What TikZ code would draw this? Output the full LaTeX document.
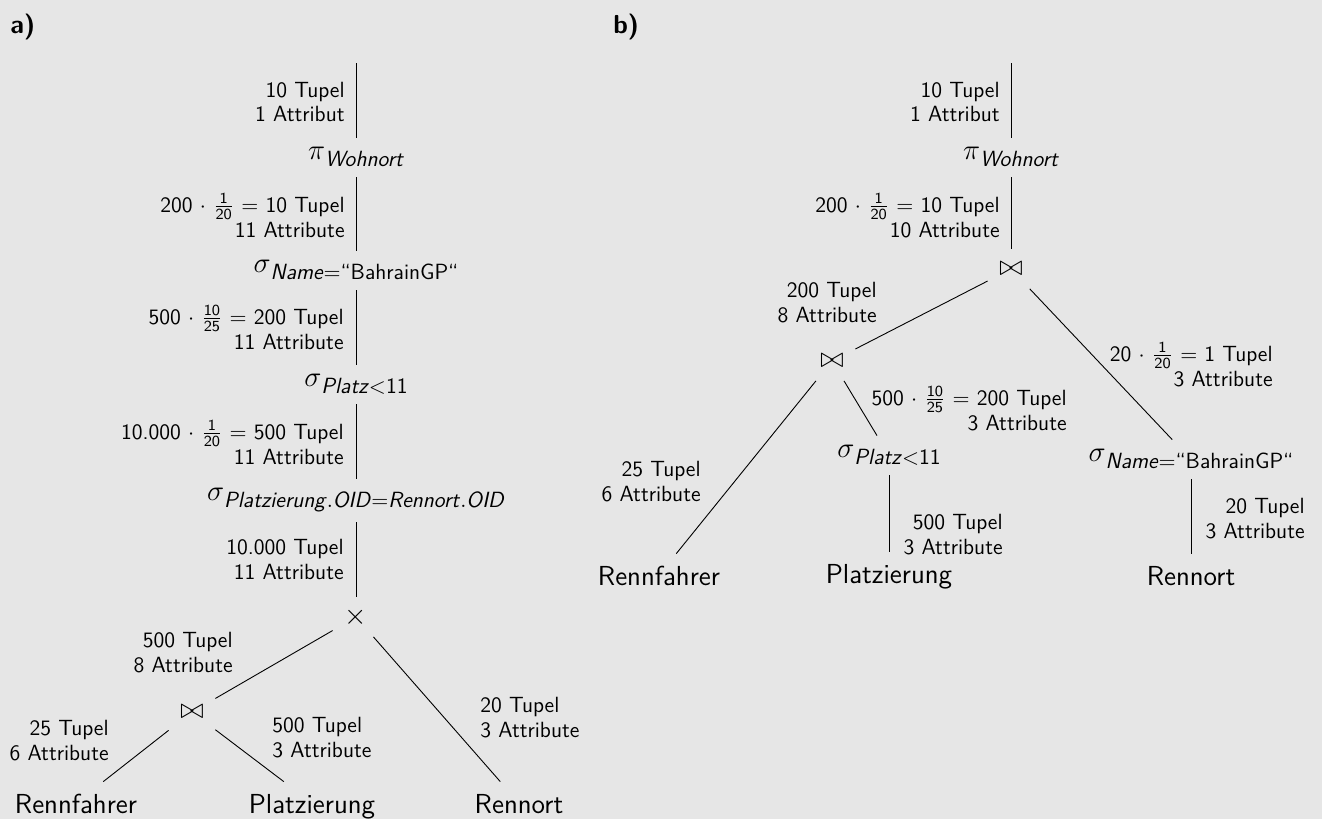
\documentclass[tikz,border=0pt]{standalone}
\usepackage{amsmath}
\definecolor{bgc}{RGB}{230,230,230}
\newcommand\fr[2]{$\frac{\text{#1}}{\text{#2}}$}
\newcommand\rlab[1]{\begin{tabular}[t]{@{}r@{}}#1\end{tabular}}
\newcommand\llab[1]{\begin{tabular}[t]{@{}l@{}}#1\end{tabular}}
\newcommand\opsub[2]{{\fontsize{14.4}{16}\selectfont$#1$}\raisebox{-3.5pt}{\fontsize{11}{13}\selectfont #2}}
\begin{document}
\begin{tikzpicture}[x=0.5pt,y=-0.5pt,
  every node/.style={font=\sffamily\fontsize{11}{12.5}\selectfont},
  lbl/.style={inner sep=0pt},
  ops/.style={inner sep=0pt, anchor=base, text height=10.5pt, text depth=9pt},
  jn/.style={inner sep=0pt, minimum width=23pt, minimum height=19.5pt, font=\fontsize{13.75}{16}\selectfont},
  leaf/.style={inner sep=0pt, anchor=base, text height=15.5pt, text depth=5.5pt, font=\sffamily\fontsize{13.75}{16}\selectfont},
  conn/.style={line width=0.45pt},
  tag/.style={inner sep=0pt, anchor=base west, font=\sffamily\bfseries\fontsize{13}{15}\selectfont}]
\useasboundingbox (0,0) rectangle (1322,819);
\fill[bgc] (0,0) rectangle (1322,819);

% ---------- panel a ----------
\node[tag] (tga) at (10,33) {a)};
\coordinate (atop) at (356,63);
\node[ops] (api) at (356,159) {\opsub{\pi}{\textit{Wohnort}}};
\node[ops] (asn) at (356,272) {\opsub{\sigma}{\textit{Name}$=$“BahrainGP“}};
\node[ops] (asp) at (356,386) {\opsub{\sigma}{\textit{Platz}$<$11}};
\node[ops, text depth=11pt] (aso) at (356,500) {\opsub{\sigma}{\textit{Platzierung}$.$\textit{OID}$=$\textit{Rennort}$.$\textit{OID}}};
\node[jn] (ax) at (356,617) {$\times$};
\node[jn] (aj) at (192,712) {$\bowtie$};
\node[leaf] (arf) at (76,813) {Rennfahrer};
\node[leaf] (apl) at (312,813) {Platzierung};
\node[leaf] (aro) at (519,813) {Rennort};

\node[lbl, anchor=base east] (al1) at (345,97) {\rlab{10 Tupel\\1 Attribut}};
\node[lbl, anchor=base east] (al2) at (345,212) {\rlab{200 $\cdot$ \fr{1}{20} $=$ 10 Tupel\\11 Attribute}};
\node[lbl, anchor=base east] (al3) at (344,324) {\rlab{500 $\cdot$ \fr{10}{25} $=$ 200 Tupel\\11 Attribute}};
\node[lbl, anchor=base east] (al4) at (344,439) {\rlab{10.000 $\cdot$ \fr{1}{20} $=$ 500 Tupel\\11 Attribute}};
\node[lbl, anchor=base east] (al5) at (344,554) {\rlab{10.000 Tupel\\11 Attribute}};
\node[lbl, anchor=base east] (al6) at (233,647) {\rlab{500 Tupel\\8 Attribute}};
\node[lbl, anchor=base east] (al7) at (109,735) {\rlab{25 Tupel\\6 Attribute}};
\node[lbl, anchor=base west] (al8) at (272,732) {\llab{500 Tupel\\3 Attribute}};
\node[lbl, anchor=base west] (al9) at (480,712) {\llab{20 Tupel\\3 Attribute}};

\draw[conn] (atop) -- (api);
\draw[conn] (api) -- (asn);
\draw[conn] (asn) -- (asp);
\draw[conn] (asp) -- (aso);
\draw[conn] (aso) -- (ax);
\draw[conn] (ax) -- (aj);
\draw[conn] (ax) -- (aro);
\draw[conn] (aj) -- (arf);
\draw[conn] (aj) -- (apl);

% ---------- panel b ----------
\node[tag] (tgb) at (613,33) {b)};
\coordinate (btop) at (1011,63);
\node[ops] (bpi) at (1011,159) {\opsub{\pi}{\textit{Wohnort}}};
\node[jn] (bj1) at (1011,269) {$\bowtie$};
\node[jn] (bj2) at (832,361) {$\bowtie$};
\node[ops] (bsp) at (889,457) {\opsub{\sigma}{\textit{Platz}$<$11}};
\node[ops] (bsn) at (1191,461) {\opsub{\sigma}{\textit{Name}$=$“BahrainGP“}};
\node[leaf] (brf) at (659,585) {Rennfahrer};
\node[leaf] (bpl) at (889,583) {Platzierung};
\node[leaf] (bro) at (1191,585) {Rennort};

\node[lbl, anchor=base east] (bl1) at (1000,97) {\rlab{10 Tupel\\1 Attribut}};
\node[lbl, anchor=base east] (bl2) at (1000,212) {\rlab{200 $\cdot$ \fr{1}{20} $=$ 10 Tupel\\10 Attribute}};
\node[lbl, anchor=base east] (bl3) at (877,297) {\rlab{200 Tupel\\8 Attribute}};
\node[lbl, anchor=base east] (bl4) at (701,476) {\rlab{25 Tupel\\6 Attribute}};
\node[lbl, anchor=base east] (bl5) at (1067,405) {\rlab{500 $\cdot$ \fr{10}{25} $=$ 200 Tupel\\3 Attribute}};
\node[lbl, anchor=base east] (bl6) at (1273,361) {\rlab{20 $\cdot$ \fr{1}{20} $=$ 1 Tupel\\3 Attribute}};
\node[lbl, anchor=base east] (bl7) at (1003,529) {\rlab{500 Tupel\\3 Attribute}};
\node[lbl, anchor=base east] (bl8) at (1305,513) {\rlab{20 Tupel\\3 Attribute}};

\draw[conn] (btop) -- (bpi);
\draw[conn] (bpi) -- (bj1);
\draw[conn] (bj1) -- (bj2);
\draw[conn] (bj1) -- (bsn);
\draw[conn] (bj2) -- (brf);
\draw[conn] (bj2) -- (bsp);
\draw[conn] (bsp) -- (bpl);
\draw[conn] (bsn) -- (bro);
\end{tikzpicture}
\end{document}
